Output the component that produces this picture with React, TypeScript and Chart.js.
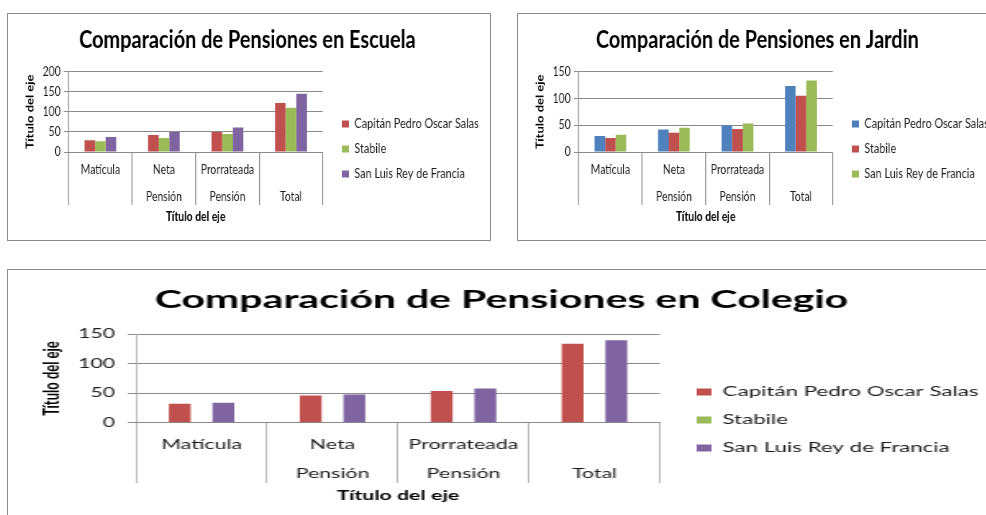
import React, { useEffect, useRef } from "react";
import { Chart, registerables } from "chart.js";

Chart.register(...registerables);

const FONT = "Lato, 'Open Sans', sans-serif";

// ---------- data ----------
const categories: string[][] = [
  ["Matícula", ""],
  ["Neta", "Pensión"],
  ["Prorrateada", "Pensión"],
  ["", "Total"],
];
const seriesNames = ["Capitán Pedro Oscar Salas", "Stabile", "San Luis Rey de Francia"];

const escuelaCapitan = [29, 42, 50, 122];
const escuelaStabile = [27, 35, 45, 110];
const escuelaSanLuis = [37, 50, 61, 145];

const jardinCapitan = [30, 42, 50, 123];
const jardinStabile = [26, 36, 43, 105];
const jardinSanLuis = [32, 45, 53, 133];

const colegioCapitan = [32, 46, 54, 134];
const colegioStabile: (number | null)[] = [null, null, null, null];
const colegioSanLuis = [34, 48, 58, 140];

const escuelaTicks = [0, 50, 100, 150, 200];
const jardinTicks = [0, 50, 100, 150];
const colegioTicks = [0, 50, 100, 150];

const axisTitle = "Título del eje";

// ---------- styles ----------
const RED = "#C0504D";
const GREEN = "#9BBB59";
const PURPLE = "#8064A2";
const BLUE = "#4F81BD";
const GRID = "#8a8a8a";
const TEXT = "#1c1c1c";

const TITLE_SIZE = 25;
const TICK_SIZE = 13;
const LEGEND_SIZE = 13.6;
const AXIS_TITLE_SIZE = 13;

type Layout = {
  w: number; h: number; sx: number;
  titlePadTop: number; titlePadBottom: number;
  yTickLen: number; yTickPad: number; yTitleTop: number; yTitleBottom: number;
  xTickLen: number; xLine: number; xTickPad: number; xTitleTop: number; xTitleBottom: number;
  legendPad: number; legendShift: number; legendBoxX: number; gapRight: number;
};

const TOP_LAYOUT: Layout = {
  w: 605, h: 226, sx: 482 / 605,
  titlePadTop: 11, titlePadBottom: 16.5,
  yTickLen: 6, yTickPad: 4, yTitleTop: 19.7, yTitleBottom: 4.2,
  xTickLen: 53, xLine: 27, xTickPad: -48.5, xTitleTop: 47.2, xTitleBottom: 15.2,
  legendPad: 11.4, legendShift: 44, legendBoxX: 419, gapRight: 12.6,
};

const BOTTOM_LAYOUT: Layout = {
  w: 605, h: 250, sx: 992 / 605,
  titlePadTop: 15, titlePadBottom: 19.3,
  yTickLen: 5, yTickPad: 7.8, yTitleTop: 19.3, yTitleBottom: 0,
  xTickLen: 60.3, xLine: 29, xTickPad: -52.5, xTitleTop: 52.2, xTitleBottom: 16.2,
  legendPad: 14.4, legendShift: 50, legendBoxX: 420, gapRight: 8,
};

type Series = { name: string; data: (number | null)[]; color: string };

function measure(text: string, font: string): number {
  const c = document.createElement("canvas").getContext("2d");
  if (!c) return 150;
  c.font = font;
  return c.measureText(text).width;
}

function Panel(props: {
  title: string;
  series: Series[];
  ticks: number[];
  L: Layout;
  box: { left: number; top: number; width: number; height: number };
}) {
  const ref = useRef<HTMLCanvasElement>(null);
  const { title, series, ticks, L, box } = props;

  useEffect(() => {
    if (!ref.current) return;
    const boxW = 9;
    const longest = Math.max(...series.map((s) => measure(s.name, `${LEGEND_SIZE}px ${FONT}`)));
    const colWidth = boxW + LEGEND_SIZE / 2 + longest;
    const legendWidth = L.legendPad + colWidth + 10;
    const legendLeft = L.legendBoxX - L.legendPad;
    const padRight = L.w - (legendLeft + legendWidth);

    const chart = new Chart(ref.current, {
      type: "bar",
      data: {
        labels: categories,
        datasets: series.map((s) => ({
          label: s.name,
          data: s.data,
          backgroundColor: s.color,
          borderWidth: 0,
          categoryPercentage: 0.5,
          barPercentage: 1,
        })),
      },
      options: {
        responsive: false,
        animation: false,
        devicePixelRatio: 1,
        layout: { padding: { left: 0, top: 0, bottom: 0, right: padRight } },
        font: { family: FONT },
        plugins: {
          title: {
            display: true,
            text: title,
            color: "#000",
            font: { family: FONT, size: TITLE_SIZE, weight: "bold", lineHeight: 1.2 },
            padding: { top: L.titlePadTop, bottom: L.titlePadBottom },
          },
          legend: {
            position: "right",
            align: "center",
            maxWidth: 400,
            title: {
              display: true,
              text: "",
              font: { size: 1, lineHeight: 1 },
              padding: { top: L.legendShift - 1, bottom: 0 },
            },
            labels: {
              boxWidth: boxW,
              boxHeight: 7,
              padding: L.legendPad,
              color: TEXT,
              font: { family: FONT, size: LEGEND_SIZE },
            },
          },
          tooltip: { enabled: false },
        },
        scales: {
          x: {
            offset: true,
            grid: {
              display: true,
              drawOnChartArea: false,
              drawTicks: true,
              tickLength: L.xTickLen,
              color: GRID,
              offset: true,
              lineWidth: 1 / L.sx,
            },
            border: { display: true, color: GRID, width: 1 },
            ticks: {
              autoSkip: false,
              maxRotation: 0,
              minRotation: 0,
              padding: L.xTickPad,
              color: TEXT,
              font: { family: FONT, size: TICK_SIZE, lineHeight: L.xLine / TICK_SIZE },
            },
            title: {
              display: true,
              text: axisTitle,
              color: "#000",
              font: { family: FONT, size: AXIS_TITLE_SIZE, weight: "bold", lineHeight: 1.2 },
              padding: { top: L.xTitleTop, bottom: L.xTitleBottom },
            },
          },
          y: {
            min: ticks[0],
            max: ticks[ticks.length - 1],
            grid: { color: GRID, drawTicks: true, tickLength: L.yTickLen, lineWidth: 1 },
            border: { display: true, color: GRID, width: 1 / L.sx },
            ticks: {
              stepSize: ticks[1] - ticks[0],
              padding: L.yTickPad,
              color: TEXT,
              font: { family: FONT, size: TICK_SIZE },
            },
            title: {
              display: true,
              text: axisTitle,
              color: "#000",
              font: { family: FONT, size: AXIS_TITLE_SIZE, weight: "bold", lineHeight: 1.2 },
              padding: { top: L.yTitleTop, bottom: L.yTitleBottom },
            },
          },
          gap: {
            type: "linear",
            position: "right",
            display: true,
            grid: { display: false, drawTicks: false },
            border: { display: false },
            ticks: { display: false },
            afterFit: (s: any) => {
              s.width = L.gapRight;
            },
          },
        },
      } as any,
    });
    return () => chart.destroy();
  }, []);

  return (
    <div
      style={{
        position: "absolute",
        left: box.left,
        top: box.top,
        width: box.width,
        height: box.height,
        border: "1px solid #8a8a8a",
        boxSizing: "border-box",
        overflow: "hidden",
        background: "#fff",
      }}
    >
      <div
        style={{
          position: "absolute",
          left: 0,
          top: 0,
          width: L.w,
          height: L.h,
          transform: `scaleX(${L.sx})`,
          transformOrigin: "0 0",
        }}
      >
        <canvas ref={ref} width={L.w} height={L.h} style={{ display: "block" }} />
      </div>
    </div>
  );
}

export default function App() {
  return (
    <div
      style={{
        position: "fixed",
        left: 0,
        top: 0,
        width: 986,
        height: 515,
        overflow: "hidden",
        background: "#fff",
      }}
    >
      <Panel
        title="Comparación de Pensiones en Escuela"
        series={[
          { name: seriesNames[0], data: escuelaCapitan, color: RED },
          { name: seriesNames[1], data: escuelaStabile, color: GREEN },
          { name: seriesNames[2], data: escuelaSanLuis, color: PURPLE },
        ]}
        ticks={escuelaTicks}
        L={TOP_LAYOUT}
        box={{ left: 7, top: 13, width: 484, height: 228 }}
      />
      <Panel
        title="Comparación de Pensiones en Jardin"
        series={[
          { name: seriesNames[0], data: jardinCapitan, color: BLUE },
          { name: seriesNames[1], data: jardinStabile, color: RED },
          { name: seriesNames[2], data: jardinSanLuis, color: GREEN },
        ]}
        ticks={jardinTicks}
        L={TOP_LAYOUT}
        box={{ left: 517, top: 13, width: 484, height: 228 }}
      />
      <Panel
        title="Comparación de Pensiones en Colegio"
        series={[
          { name: seriesNames[0], data: colegioCapitan, color: RED },
          { name: seriesNames[1], data: colegioStabile, color: GREEN },
          { name: seriesNames[2], data: colegioSanLuis, color: PURPLE },
        ]}
        ticks={colegioTicks}
        L={BOTTOM_LAYOUT}
        box={{ left: 7, top: 269, width: 994, height: 252 }}
      />
    </div>
  );
}
